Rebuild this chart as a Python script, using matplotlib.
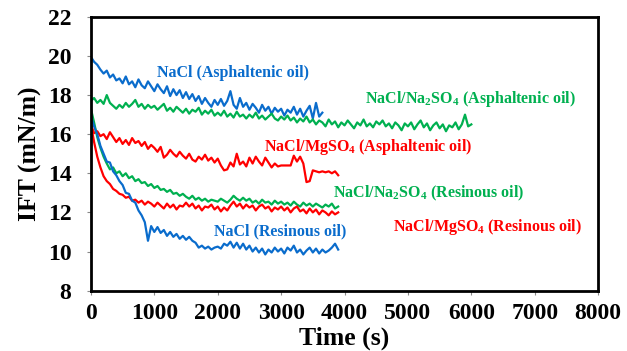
"""Interfacial tension versus time for brine / crude oil pairs"""
import numpy as np
import matplotlib
matplotlib.use("Agg")
import matplotlib.pyplot as plt

plt.rcParams["font.family"] = ["Liberation Serif", "DejaVu Serif"]
plt.rcParams["font.weight"] = "bold"
plt.rcParams["mathtext.fontset"] = "custom"
plt.rcParams["mathtext.rm"] = "Liberation Serif:bold"
plt.rcParams["mathtext.it"] = "Liberation Serif:bold"
plt.rcParams["mathtext.bf"] = "Liberation Serif:bold"

# sampling times (s), one reading every 50 s
time_short = np.arange(0, 3651, 50)
time_long = np.arange(0, 6001, 50)
time_res = np.arange(0, 3901, 50)

nacl_asph = [
    19.95, 19.7, 19.55, 19.3, 19.1, 19.25, 18.9, 19.05, 18.75, 18.85,
    18.6, 18.95, 18.55, 18.7, 18.4, 18.8, 18.5, 18.35, 18.7, 18.45,
    18.2, 18.55, 18.3, 18.1, 18.45, 17.95, 18.3, 18.0, 18.25, 17.85,
    18.15, 17.8, 18.05, 17.7, 17.95, 17.55, 17.85, 17.6, 17.4, 17.75,
    17.5, 17.8, 17.45, 17.7, 18.2, 17.5, 17.3, 17.85, 17.4, 17.6,
    17.25, 17.55, 17.35, 17.1, 17.5, 17.2, 17.4, 17.05, 17.35, 17.15,
    17.3, 16.95, 17.25, 17.1, 17.4, 17.0, 17.3, 16.9, 17.2, 17.45,
    16.8, 17.6, 16.9, 17.1,
]
na2so4_asph = [
    17.7, 17.85, 17.6, 17.75, 17.55, 18.0, 17.6, 17.45, 17.3, 17.5,
    17.35, 17.6, 17.4, 17.55, 17.75, 17.4, 17.55, 17.3, 17.5, 17.35,
    17.45, 17.25, 17.4, 17.55, 17.2, 17.35, 17.15, 17.4, 17.25, 17.1,
    17.3, 17.05, 17.25, 17.15, 17.35, 17.0, 17.2, 17.05, 17.25, 16.95,
    17.1, 16.95, 17.2, 16.9, 17.05, 16.85, 17.15, 16.9, 17.0, 16.8,
    17.0, 16.85, 17.1, 16.8, 16.95, 16.75, 16.9, 17.05, 16.8, 16.7,
    16.9, 16.75, 16.95, 16.7, 16.85, 16.6, 16.8, 16.65, 16.9, 16.6,
    16.75, 16.5, 16.7, 16.6, 16.4, 16.75, 16.5, 16.65, 16.35, 16.6,
    16.45, 16.7, 16.5, 16.3, 16.6, 16.45, 16.75, 16.4, 16.55, 16.35,
    16.65, 16.5, 16.7, 16.4, 16.55, 16.3, 16.6, 16.45, 16.2, 16.55,
    16.4, 16.6, 16.25, 16.5, 16.7, 16.35, 16.55, 16.2, 16.45, 16.6,
    16.3, 16.5, 16.15, 16.45, 16.35, 16.6, 16.25, 16.5, 17.0, 16.4,
    16.5,
]
mgso4_asph = [
    16.5, 16.05, 16.15, 15.9, 16.0, 15.75, 16.1, 15.85, 15.6, 15.8,
    15.5, 15.7, 15.45, 15.8, 15.55, 15.65, 15.4, 15.6, 15.25, 15.45,
    15.3, 15.1, 15.35, 14.8, 14.95, 15.2, 15.0, 14.85, 15.1, 14.9,
    14.75, 15.0, 14.7, 14.6, 14.85, 14.7, 14.95, 14.65, 14.8, 14.55,
    14.75, 14.4, 14.15, 14.2, 14.55, 14.35, 15.0, 14.45, 14.6, 14.35,
    14.8, 14.5, 14.85, 14.6, 14.4, 14.8, 14.55, 14.3, 14.5, 14.35,
    14.4, 14.4, 14.4, 14.4, 14.9, 14.6, 14.85, 14.5, 13.55, 13.6,
    14.15, 14.1, 14.05, 14.1, 14.05, 14.1, 14.0, 14.1, 13.9,
]
na2so4_res = [
    17.3, 16.6, 15.85, 15.3, 14.85, 14.5, 14.2, 14.3, 14.0, 14.1,
    13.85, 14.0, 13.75, 13.85, 13.6, 13.7, 13.5, 13.55, 13.35, 13.45,
    13.25, 13.35, 13.15, 13.2, 13.05, 13.15, 12.95, 13.0, 12.85, 12.95,
    12.8, 12.7, 12.85, 12.65, 12.75, 12.6, 12.7, 12.55, 12.65, 12.6,
    12.55, 12.7, 12.6, 12.5, 12.65, 12.85, 12.7, 12.6, 12.75, 12.6,
    12.7, 12.5, 12.6, 12.45, 12.65, 12.5, 12.55, 12.4, 12.6, 12.45,
    12.55, 12.4, 12.5, 12.35, 12.55, 12.4, 12.3, 12.5, 12.35, 12.45,
    12.3, 12.45, 12.35, 12.25, 12.4, 12.3, 12.45, 12.2, 12.3,
]
mgso4_res = [
    16.5, 15.6, 14.85, 14.3, 13.85, 13.6, 13.45, 13.2, 13.1, 12.95,
    12.9, 12.75, 12.8, 12.6, 12.65, 12.5, 12.6, 12.4, 12.55, 12.45,
    12.3, 12.5, 12.35, 12.2, 12.45, 12.25, 12.4, 12.15, 12.35, 12.3,
    12.5, 12.3, 12.45, 12.2, 12.35, 12.1, 12.3, 12.25, 12.4, 12.15,
    12.3, 12.05, 12.25, 12.1, 12.35, 12.55, 12.3, 12.45, 12.2, 12.4,
    12.25, 12.35, 12.1, 12.3, 12.4, 12.2, 12.3, 12.05, 12.25, 12.15,
    12.3, 12.1, 12.25, 12.0, 12.2, 12.3, 12.05, 12.15, 11.95, 12.2,
    12.0, 12.15, 11.9, 12.1, 12.0, 11.85, 12.05, 11.9, 12.0,
]
nacl_res = [
    16.9, 16.4, 16.0, 15.4, 15.0, 14.6, 14.55, 14.1, 13.9, 13.6,
    13.4, 13.0, 12.95, 12.6, 12.5, 12.1, 11.85, 11.5, 10.55, 11.3,
    11.0, 11.25, 10.95, 11.1, 10.8, 11.0, 10.75, 10.9, 10.65, 10.8,
    10.6, 10.75, 10.55, 10.45, 10.2, 10.3, 10.15, 10.25, 10.1, 10.2,
    10.25, 10.15, 10.4, 10.3, 10.5, 10.2, 10.45, 10.15, 10.4, 10.1,
    10.3, 10.0, 10.2, 9.95, 10.15, 9.85, 10.1, 9.95, 10.2, 10.0,
    10.15, 9.9, 10.2, 10.05, 10.3, 9.95, 10.1, 9.85, 10.05, 10.2,
    9.95, 10.15, 9.9, 10.1, 9.95, 10.05, 10.2, 10.4, 10.1,
]

BLUE = "#0a6ccc"
GREEN = "#00b050"
RED = "#ff0000"

fig = plt.figure(figsize=(6.27, 3.51), dpi=100)
ax = fig.add_axes([0.145, 0.172, 0.809, 0.780])

lw = 1.6
ax.plot(time_short, nacl_asph, color=BLUE, lw=lw)
ax.plot(time_long, na2so4_asph, color=GREEN, lw=lw)
ax.plot(time_res, mgso4_asph, color=RED, lw=lw)
ax.plot(time_res, na2so4_res, color=GREEN, lw=lw)
ax.plot(time_res, mgso4_res, color=RED, lw=lw)
ax.plot(time_res, nacl_res, color=BLUE, lw=lw)

# curve labels
fs = 11.5
ax.text(2240, 19.13, "NaCl (Asphaltenic oil)", color=BLUE, fontsize=fs,
        ha="center", va="center")
ax.text(5980, 17.8, "NaCl/Na$_2$SO$_4$ (Asphaltenic oil)", color=GREEN,
        fontsize=fs, ha="center", va="center")
ax.text(4370, 15.33, "NaCl/MgSO$_4$ (Asphaltenic oil)", color=RED,
        fontsize=fs, ha="center", va="center")
ax.text(5330, 12.97, "NaCl/Na$_2$SO$_4$ (Resinous oil)", color=GREEN,
        fontsize=fs, ha="center", va="center")
ax.text(6250, 11.23, "NaCl/MgSO$_4$ (Resinous oil)", color=RED,
        fontsize=fs, ha="center", va="center")
ax.text(2990, 11.03, "NaCl (Resinous oil)", color=BLUE, fontsize=fs,
        ha="center", va="center")

ax.set_xlim(0, 8000)
ax.set_ylim(8, 22)
ax.set_xticks(range(0, 8001, 1000))
ax.set_yticks(range(8, 23, 2))
ax.tick_params(direction="out", length=3, width=0.8, color="#888888",
               labelsize=17)
ax.tick_params(axis="x", pad=6)
ax.tick_params(axis="y", pad=11)
for lab in ax.get_xticklabels() + ax.get_yticklabels():
    lab.set_fontweight("bold")
for sp in ax.spines.values():
    sp.set_linewidth(2)
    sp.set_color("black")

ax.set_xlabel("Time (s)", fontsize=18.5, fontweight="bold", labelpad=2)
ax.set_ylabel("IFT (mN/m)", fontsize=18.5, fontweight="bold", labelpad=4)

fig.savefig("out.png", dpi=100)
